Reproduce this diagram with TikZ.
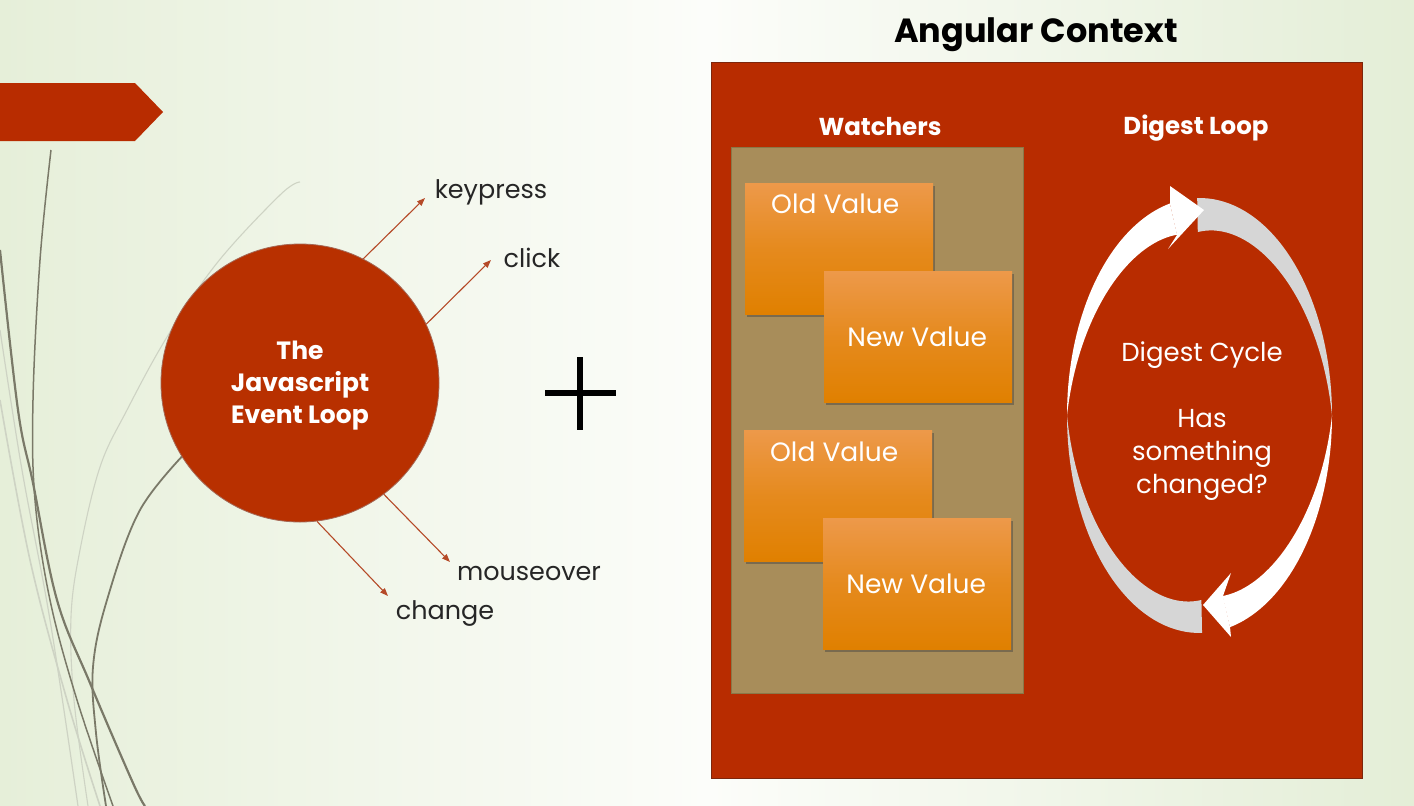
\documentclass[tikz,border=0pt]{standalone}
\usepackage{fontspec}
\setmainfont{Poppins}
\usetikzlibrary{arrows.meta,shadows,calc}
\definecolor{bgL}{RGB}{230,239,217}
\definecolor{bgM}{RGB}{252,253,250}
\definecolor{bgR}{RGB}{228,238,215}
\definecolor{rust}{RGB}{184,44,0}
\definecolor{rustdark}{RGB}{125,38,12}
\definecolor{circfill}{RGB}{184,48,0}
\definecolor{arrowc}{RGB}{181,74,40}
\definecolor{panel}{RGB}{168,141,90}
\definecolor{panelb}{RGB}{138,120,72}
\definecolor{orTop}{RGB}{237,153,74}
\definecolor{orBot}{RGB}{224,128,0}
\definecolor{curveD}{RGB}{122,121,104}
\definecolor{curveL}{RGB}{206,211,196}
\definecolor{loopgray}{RGB}{214,214,214}
\def\cx{1199.5}
\def\cy{415.5}
\def\rx{132.5}
\def\ry{217.5}
\begin{document}
\begin{tikzpicture}[x=1pt,y=-1pt,
  evtitle/.style={font=\fontsize{25}{32}\selectfont\bfseries, text=white, align=center},
  lbl/.style={font=\fontsize{25.5}{28}\selectfont, text=black!85},
  hdr/.style={font=\fontsize{24.5}{28}\selectfont\bfseries, text=white},
  ttl/.style={font=\fontsize{33.5}{38}\selectfont\bfseries, text=black},
  valtxt/.style={font=\fontsize{26.5}{30}\selectfont, text=white},
  digtxt/.style={font=\fontsize{26}{33}\selectfont, text=white, align=center},
  evarrow/.style={draw=arrowc, line width=1.1pt, -{Triangle[length=8pt,width=6pt]}},
  valbox/.style={minimum width=188pt, minimum height=131pt, inner sep=0pt, anchor=north west,
     top color=orTop, bottom color=orBot, middle color=orBot!60!orTop,
     drop shadow={shadow xshift=1.5pt, shadow yshift=-3pt, opacity=0.45, fill=black!75}},
  dcurve/.style={draw=curveD, line width=2.2pt},
  lcurve/.style={draw=curveL, line width=1.6pt},
  gband/.style={fill=loopgray},
  wband/.style={fill=white}
]
\useasboundingbox (0,0) rectangle (1414,806);
% background
\shade[left color=bgL, right color=bgR, middle color=bgM] (0,0) rectangle (1414,806);

% decorative curves
\draw[lcurve] plot[smooth, tension=0.6] coordinates {(0,400) (30,560) (67,700) (100,806)};
\draw[lcurve, line width=1.2pt] plot[smooth, tension=0.6] coordinates {(0,330) (22,470) (50,620) (78,806)};
\draw[lcurve, line width=1.1pt] plot[smooth, tension=0.6] coordinates {(300,182) (280,195) (217,263) (167,337) (127,410) (100,467) (80,550) (71,617) (74,700) (88,806)};
\draw[dcurve] plot[smooth, tension=0.6] coordinates {(0,250) (18,410) (33,483) (57,600) (90,683) (133,783) (145,806)};
\draw[dcurve, line width=1.5pt] plot[smooth, tension=0.6] coordinates {(51,150) (40,260) (33,400) (35,500) (50,600) (77,700) (113,806)};
\draw[dcurve, line width=1.8pt] plot[smooth, tension=0.6] coordinates {(190,448) (140,510) (107,600) (93,667) (96,733) (106,806)};

% banner
\fill[rust] (0,83) -- (135,83) -- (163,112) -- (135,141) -- (0,141) -- cycle;

% event loop circle
\node[circle, minimum size=278pt, inner sep=0pt, fill=circfill, draw=rustdark!70, line width=0.8pt] (loop) at (300,383) {};
\node[evtitle] (looptxt) at (300,386) {The\\Javascript\\Event Loop};

\coordinate (kpT) at (425,198);
\coordinate (clT) at (491,260);
\coordinate (moT) at (450,562);
\coordinate (chT) at (388,596);
\draw[evarrow] (loop.63) -- (kpT);
\draw[evarrow] (loop.25) -- (clT);
\draw[evarrow] (loop.-53) -- (moT);
\draw[evarrow] (loop.-83) -- (chT);
\node[lbl] (kp) at (491,192) {keypress};
\node[lbl] (cl) at (532,258) {click};
\node[lbl] (mo) at (529,573) {mouseover};
\node[lbl] (ch) at (445,613) {change};

% plus
\draw[line width=6pt] (545,393) -- (616,393);
\draw[line width=6pt] (580,357) -- (580,430);

% angular context
\node[ttl] (title) at (1036,35) {Angular Context};
\node[draw=rustdark, line width=0.8pt, fill=rust, minimum width=651pt, minimum height=716pt, inner sep=0pt, anchor=north west] (ctx) at (711,62) {};
\node[hdr] (wh) at (880,127) {Watchers};
\node[hdr] (dh) at (1196,128) {Digest Loop};
\node[draw=panelb, line width=1pt, fill=panel, minimum width=292pt, minimum height=546pt, inner sep=0pt, anchor=north west] (panel) at (731,147) {};

\node[valbox] (o1) at (745,183) {};
\node[valtxt] (o1t) at ($(o1.north)+(-4,21)$) {Old Value};
\node[valbox] (n1) at (824,271) {};
\node[valtxt] (n1t) at ($(n1.center)+(-1,0)$) {New Value};
\node[valbox] (o2) at (744,430) {};
\node[valtxt] (o2t) at ($(o2.north)+(-4,22)$) {Old Value};
\node[valbox] (n2) at (823,518) {};
\node[valtxt] (n2t) at ($(n2.center)+(-1,0)$) {New Value};

% digest loop arrows
\fill[gband] plot[domain=91:0, samples=40, variable=\t] ({\cx+\rx*cos(\t)},{\cy-\ry*sin(\t)})
  -- plot[domain=0:91, samples=40, variable=\t] ({\cx+(\rx-34*\t/91)*cos(\t)},{\cy-(\ry-34*\t/91)*sin(\t)}) -- cycle;
\fill[gband] plot[domain=-88.9:-180, samples=40, variable=\t] ({\cx+\rx*cos(\t)},{\cy-\ry*sin(\t)})
  -- plot[domain=-180:-88.9, samples=40, variable=\t] ({\cx+(\rx-33*(\t+180)/91.1)*cos(\t)},{\cy-(\ry-33*(\t+180)/91.1)*sin(\t)}) -- cycle;
\fill[wband] plot[domain=180:102.9, samples=40, variable=\t] ({\cx+\rx*cos(\t)},{\cy-\ry*sin(\t)})
  -- plot[domain=102.9:180, samples=40, variable=\t] ({\cx+(\rx-32*(180-\t)/77.1)*cos(\t)},{\cy-(\ry-32*(180-\t)/77.1)*sin(\t)}) -- cycle;
\fill[wband] plot[domain=0:-76.7, samples=40, variable=\t] ({\cx+\rx*cos(\t)},{\cy-\ry*sin(\t)})
  -- plot[domain=-76.7:0, samples=40, variable=\t] ({\cx+(\rx-32*(-\t)/76.7)*cos(\t)},{\cy-(\ry-32*(-\t)/76.7)*sin(\t)}) -- cycle;
% arrow heads
\fill[wband] (1170,204) -- (1170,186) -- (1204,210) -- (1168,249) -- (1177,235) -- cycle;
\fill[wband] (1223,596) -- (1231,573) -- (1203,605) -- (1231,637) -- (1230,627) -- cycle;

\node[digtxt] (dc) at (1202,421) {Digest Cycle\\[33pt]Has\\something\\changed?};
\end{tikzpicture}
\end{document}
